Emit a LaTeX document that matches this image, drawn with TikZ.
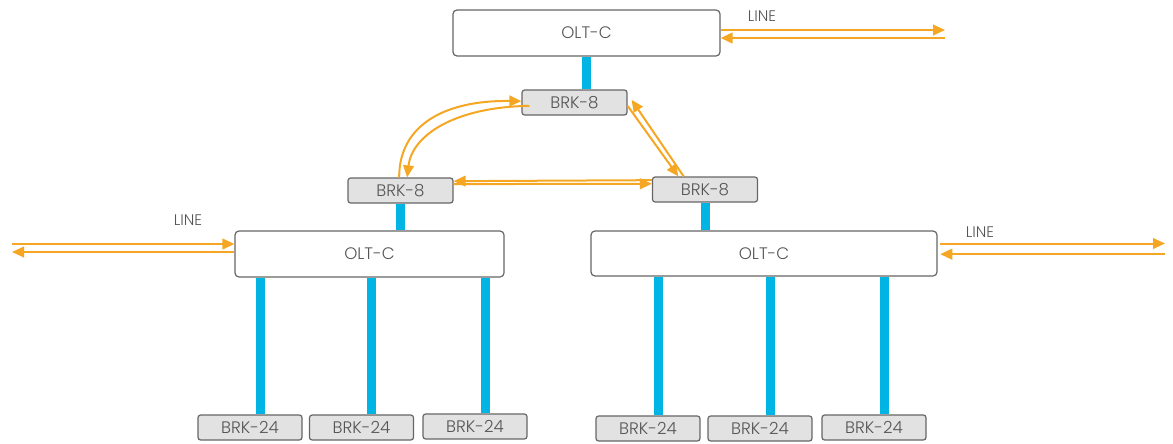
\documentclass[tikz,border=0pt]{standalone}
\usepackage{fontspec}
\setmainfont{Poppins}[UprightFont={* Light}]
\usetikzlibrary{arrows.meta}
\definecolor{org}{HTML}{F5A623}
\definecolor{blu}{HTML}{00B4E4}
\definecolor{txt}{HTML}{555555}
\definecolor{brd}{HTML}{666666}
\definecolor{gfill}{HTML}{E2E2E2}
\begin{document}
\begin{tikzpicture}[x=0.75pt,y=-0.75pt,
 olt/.style={draw=brd, line width=0.9pt, fill=white, rounded corners=3pt, inner sep=0pt, text=txt, minimum height=34.5pt, font=\fontsize{12.5}{14}\selectfont},
 brk/.style={draw=brd, line width=0.9pt, fill=gfill, rounded corners=2pt, inner sep=0pt, text=txt, minimum height=18.75pt, font=\fontsize{12.5}{14}\selectfont},
 bar/.style={draw=blu, line width=6.75pt},
 oarr/.style={draw=org, line width=1.5pt, -{Triangle[length=9pt,width=8pt]}},
 lbl/.style={text=txt, font=\fontsize{11.5}{13}\selectfont, inner sep=0pt}]
\useasboundingbox (0,0) rectangle (1173,443);
% boxes
\node[olt, minimum width=200.25pt] (topOLT) at (586.5,33) {OLT-C};
\node[brk, minimum width=78.75pt] (topBRK) at (574.5,102.5) {BRK-8};
\node[brk, minimum width=78.75pt] (lBRK) at (400.5,190.5) {BRK-8};
\node[brk, minimum width=78.75pt] (rBRK) at (705,189.5) {BRK-8};
\node[olt, minimum width=201.75pt] (lOLT) at (369.5,254) {OLT-C};
\node[olt, minimum width=259.5pt, minimum height=33.75pt] (rOLT) at (764,253.5) {OLT-C};
\node[brk, minimum width=78pt] (b1) at (250,427.5) {BRK-24};
\node[brk, minimum width=78pt] (b2) at (361.5,427.5) {BRK-24};
\node[brk, minimum width=78pt] (b3) at (475,426.5) {BRK-24};
\node[brk, minimum width=78pt] (b4) at (648,428.5) {BRK-24};
\node[brk, minimum width=78pt] (b5) at (760,428.5) {BRK-24};
\node[brk, minimum width=78pt] (b6) at (874,427.5) {BRK-24};
% blue bars
\draw[bar] (topOLT.south) -- (topOLT.south |- topBRK.north);
\draw[bar] (lBRK.south) -- (lBRK.south |- lOLT.north);
\draw[bar] (rBRK.south) -- (rBRK.south |- rOLT.north);
\foreach \b in {b1,b2,b3}{
  \draw[bar] ([xshift=7.5pt]\b.north) -- ([xshift=7.5pt]\b.north |- lOLT.south);
}
\foreach \b in {b4,b5,b6}{
  \draw[bar] ([xshift=7.5pt]\b.north) -- ([xshift=7.5pt]\b.north |- rOLT.south);
}
% LINE connections
\coordinate (tEnd) at (945,33);
\coordinate (lEnd) at (12,254);
\coordinate (rEnd) at (1165,253.5);
\draw[oarr] ([yshift=2.25pt]topOLT.east) -- ([yshift=2.25pt]topOLT.east -| tEnd);
\draw[oarr] ([yshift=-3.75pt]topOLT.east -| tEnd) -- ([yshift=-3.75pt]topOLT.east);
\draw[oarr] ([yshift=7.5pt]lOLT.west -| lEnd) -- ([yshift=7.5pt]lOLT.west);
\draw[oarr] ([yshift=1.5pt]lOLT.west) -- ([yshift=1.5pt]lOLT.west -| lEnd);
\draw[oarr] ([yshift=7.5pt,xshift=2pt]rOLT.east) -- ([yshift=7.5pt]rOLT.east -| rEnd);
\draw[oarr] ([yshift=-0.5pt]rOLT.east -| rEnd) -- ([yshift=-0.5pt,xshift=2pt]rOLT.east);
\node[lbl] (ltop) at (762,16) {LINE};
\node[lbl] (lleft) at (188,220) {LINE};
\node[lbl] (lright) at (980,232) {LINE};
% ring between BRK-8
\draw[oarr] ([xshift=-1pt]lBRK.north) .. controls (399,125) and (445,100) .. ([yshift=1pt]topBRK.west);
\draw[oarr] ([yshift=-2.5pt,xshift=6pt]topBRK.west) .. controls (455,107) and (412,135) .. ([xshift=5pt]lBRK.north);
\draw[oarr] ([xshift=-16pt]rBRK.north) -- ([xshift=3pt,yshift=2pt]topBRK.east);
\draw[oarr] ([yshift=-2.5pt]topBRK.east) -- ([xshift=-20pt]rBRK.north);
\draw[oarr] ([yshift=7pt]rBRK.west) -- ([yshift=7pt]lBRK.east);
\draw[oarr] ([yshift=4.8pt]lBRK.east) -- ([yshift=4.3pt]rBRK.west);
\end{tikzpicture}
\end{document}
